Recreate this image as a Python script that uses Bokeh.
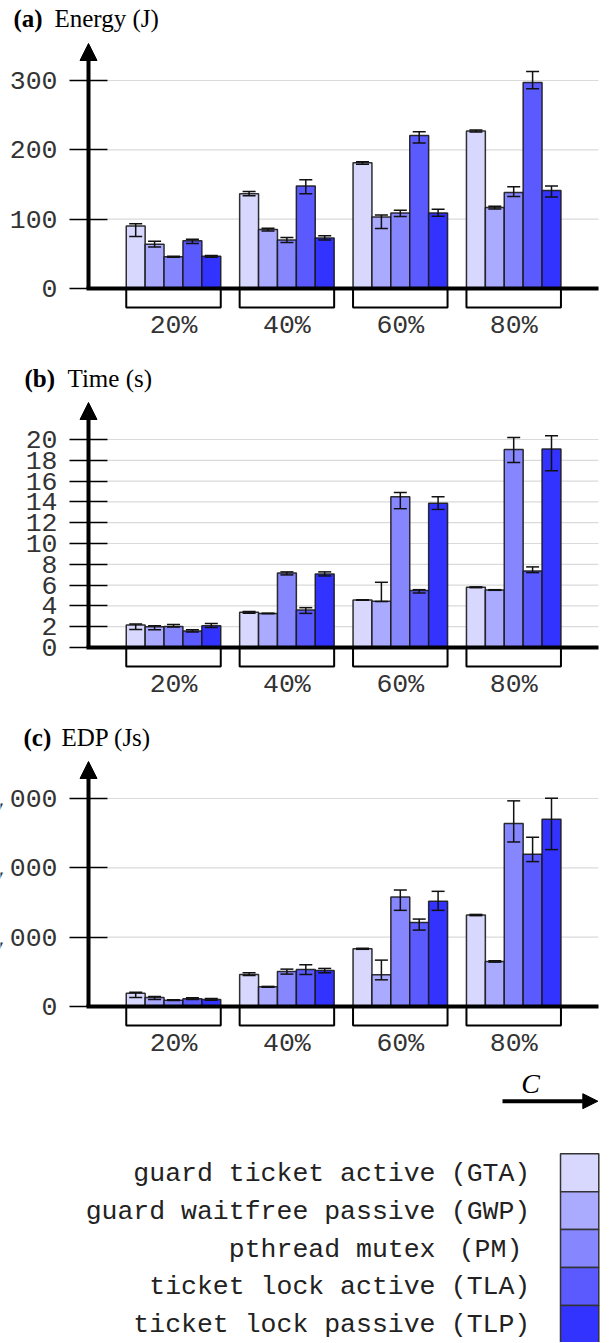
from bokeh.plotting import figure
from bokeh.models import (Range1d, FixedTicker, Label, Arrow, NormalHead, Whisker,
                          TeeHead, ColumnDataSource, NumeralTickFormatter)
from bokeh.layouts import column
from bokeh.core.properties import value
from bokeh.embed import file_html
from bokeh.resources import INLINE

# ---------------- data ----------------
groups = ["20%", "40%", "60%", "80%"]
series_names = ["guard ticket active", "guard waitfree passive", "pthread mutex",
                "ticket lock active", "ticket lock passive"]
series_abbr = ["(GTA)", "(GWP)", "(PM)", "(TLA)", "(TLP)"]
colors = ["#d8d8ff", "#aaaaff", "#8686ff", "#5a5aff", "#3333ff"]

# Energy (J)
energy_gta = [90.0, 136.6, 181.3, 227.0]
energy_gwp = [64.0, 85.0, 103.0, 116.8]
energy_pm = [45.7, 70.0, 109.0, 138.5]
energy_tla = [69.0, 148.0, 220.7, 297.0]
energy_tlp = [46.6, 73.0, 109.0, 141.4]
energy_lo = [[75.0, 133.7, 179.3, 225.6], [60.0, 83.0, 86.5, 114.8], [45.0, 66.3, 103.8, 132.7],
             [65.0, 136.6, 210.0, 288.0], [45.0, 70.0, 104.3, 132.0]]
energy_hi = [[93.4, 140.0, 182.7, 228.6], [68.0, 87.0, 106.0, 118.7], [46.5, 73.6, 113.0, 146.7],
             [71.0, 156.8, 226.0, 313.0], [47.6, 76.0, 114.4, 148.0]]
energy_ticks = [0, 100, 200, 300]

# Time (s)
time_gta = [2.16, 3.38, 4.57, 5.79]
time_gwp = [2.00, 3.28, 4.44, 5.53]
time_pm = [2.03, 7.17, 14.50, 19.03]
time_tla = [1.58, 3.60, 5.47, 7.36]
time_tlp = [2.09, 7.07, 13.86, 19.09]
time_lo = [[1.74, 3.30, 4.55, 5.75], [1.70, 3.25, 4.42, 5.50], [1.96, 6.98, 13.35, 17.78],
           [1.50, 3.28, 5.24, 7.20], [1.93, 6.88, 13.28, 17.00]]
time_hi = [[2.25, 3.45, 4.59, 5.83], [2.10, 3.30, 6.27, 5.56], [2.20, 7.27, 14.90, 20.19],
           [1.70, 3.83, 5.56, 7.75], [2.30, 7.27, 14.50, 20.35]]
time_ticks = [0, 2, 4, 6, 8, 10, 12, 14, 16, 18, 20]

# EDP (Js)
edp_gta = [192, 462, 833, 1319]
edp_gwp = [130, 284, 457, 650]
edp_pm = [91, 505, 1579, 2639]
edp_tla = [111, 534, 1213, 2196]
edp_tlp = [101, 520, 1517, 2701]
edp_lo = [[130, 448, 825, 1310], [101, 278, 385, 640], [85, 467, 1387, 2373],
          [100, 462, 1102, 2090], [90, 486, 1387, 2263]]
edp_hi = [[207, 486, 840, 1328], [144, 290, 669, 660], [97, 539, 1680, 2966],
          [125, 602, 1261, 2441], [115, 549, 1661, 3004]]
edp_ticks = [0, 1000, 2000, 3000]

# ---------------- layout constants (page pixels) ----------------
PAGE_W = 613
TOPTICK_PX = 208       # px from zero to the highest tick
ARROW_PX = 245         # px from zero to the arrow tip
PX_PER_GROUP = 113.4
GROUP0_PAGE_X = 173
AXIS_X = 88
GRID_X0 = 107
RIGHT_X = 598
MONO = "Liberation Mono"
SERIF = "Liberation Serif"
MONO_SIZE = "26.5px"


def px_to_x(page_x):
    return (page_x - GROUP0_PAGE_X) / PX_PER_GROUP


def make_panel(height, zero_px, title_px, series, los, his, ticks, tag, title,
               tag_x, title_x, formatter=None):
    s = TOPTICK_PX / ticks[-1]
    p = figure(width=PAGE_W, height=height,
               x_range=Range1d(px_to_x(0), px_to_x(PAGE_W)),
               y_range=Range1d(-(height - zero_px) / s, zero_px / s),
               output_backend="svg", toolbar_location=None, x_axis_location=None,
               title_location=None, min_border=0)
    p.outline_line_color = None
    p.grid.visible = False

    ax = p.yaxis[0]
    ax.fixed_location = px_to_x(AXIS_X)
    ax.ticker = FixedTicker(ticks=ticks)
    if formatter is not None:
        ax.formatter = formatter
    ax.axis_line_color = None
    ax.major_tick_line_color = "black"
    ax.major_tick_line_width = 1.4
    ax.major_tick_in = GRID_X0 - AXIS_X
    ax.major_tick_out = 19
    ax.minor_tick_line_color = None
    ax.minor_tick_out = 0
    ax.major_label_standoff = 12
    ax.major_label_text_font = MONO
    ax.major_label_text_font_size = MONO_SIZE
    ax.major_label_text_color = "#333333"

    # horizontal grid lines at the ticks
    p.segment(x0=[px_to_x(GRID_X0)] * len(ticks), y0=ticks,
              x1=[px_to_x(RIGHT_X)] * len(ticks), y1=ticks,
              line_color="#dadada", line_width=1.2)

    n = len(series)
    bw = 1.0 / 6
    for k in range(n):
        xs = [i + (k - (n - 1) / 2) * bw for i in range(len(groups))]
        src = ColumnDataSource(dict(x=xs, top=series[k], lo=los[k], hi=his[k]))
        p.vbar(x="x", top="top", bottom=0, width=bw, source=src,
               fill_color=colors[k], line_color="#1a1a1a", line_width=1.5, line_alpha=0.9)
        p.add_layout(Whisker(source=src, base="x", lower="lo", upper="hi",
                             line_color="#111111", line_width=1.5, level="overlay",
                             upper_head=TeeHead(size=13, line_color="#111111", line_width=1.5),
                             lower_head=TeeHead(size=13, line_color="#111111", line_width=1.5)))

    gx = list(range(len(groups)))
    half = n * bw / 2
    p.quad(left=[i - half for i in gx], right=[i + half for i in gx],
           top=[0] * len(gx), bottom=[-19 / s] * len(gx),
           fill_color=None, line_color="black", line_width=2)
    p.text(x=gx, y=[-37 / s] * len(gx), text=groups, text_align="center",
           text_baseline="middle", text_font=value(MONO), text_font_size=MONO_SIZE,
           text_color="#333333")

    # x axis line
    p.segment(x0=[px_to_x(AXIS_X - 2)], y0=[0], x1=[px_to_x(RIGHT_X)], y1=[0],
              line_color="black", line_width=4)
    # y axis arrow
    p.add_layout(Arrow(x_start=px_to_x(AXIS_X), y_start=0,
                       x_end=px_to_x(AXIS_X), y_end=ARROW_PX / s,
                       line_color="black", line_width=4,
                       end=NormalHead(size=17, fill_color="black", line_color="black",
                                      line_width=1)))
    # title
    ty = (zero_px - title_px) / s
    p.add_layout(Label(x=px_to_x(tag_x), y=ty, text=tag, text_font=SERIF,
                       text_font_style="bold", text_font_size="25px",
                       text_baseline="middle", text_align="left", text_color="black"))
    p.add_layout(Label(x=px_to_x(title_x), y=ty, text=title, text_font=SERIF,
                       text_font_size="25px", text_baseline="middle",
                       text_align="left", text_color="black"))
    return p


# panel tops (page px): a 0, b 355, c 710, legend 1060
pa = make_panel(355, 288, 18.3, [energy_gta, energy_gwp, energy_pm, energy_tla, energy_tlp],
                energy_lo, energy_hi, energy_ticks, "(a)", "Energy (J)", 13, 54)
pb = make_panel(355, 292, 22.7, [time_gta, time_gwp, time_pm, time_tla, time_tlp],
                time_lo, time_hi, time_ticks, "(b)", "Time (s)", 24, 67)
pc = make_panel(350, 296, 26.7, [edp_gta, edp_gwp, edp_pm, edp_tla, edp_tlp],
                edp_lo, edp_hi, edp_ticks, "(c)", "EDP (Js)", 23, 61,
                formatter=NumeralTickFormatter(format="0,0"))

# ---------------- legend panel (page pixel coordinates) ----------------
LEG_TOP = 355 + 355 + 350
LEG_H = 282
lp = figure(width=PAGE_W, height=LEG_H, x_range=Range1d(0, PAGE_W),
            y_range=Range1d(LEG_TOP + LEG_H, LEG_TOP), output_backend="svg",
            toolbar_location=None, x_axis_location=None, y_axis_location=None,
            title_location=None, min_border=0)
lp.outline_line_color = None
lp.grid.visible = False

ROW0 = 1153.3
ROW_H = 37.9
nrows = len(series_names)
tops = [ROW0 + ROW_H * k for k in range(nrows)]
mids = [t + ROW_H / 2 + 1 for t in tops]
lp.quad(left=[560] * nrows, right=[598.3] * nrows, top=tops,
        bottom=[t + ROW_H for t in tops], fill_color=colors,
        line_color="#333333", line_width=1.5)
lp.text(x=[435] * nrows, y=mids, text=series_names, text_align="right",
        text_baseline="middle", text_font=value(MONO), text_font_size=MONO_SIZE,
        text_color="#222222")
lp.text(x=[490] * nrows, y=mids, text=series_abbr, text_align="center",
        text_baseline="middle", text_font=value(MONO), text_font_size=MONO_SIZE,
        text_color="#222222")

lp.add_layout(Arrow(x_start=502, y_start=1100.7, x_end=597.3, y_end=1100.7,
                    line_color="black", line_width=4,
                    end=NormalHead(size=15, fill_color="black", line_color="black",
                                   line_width=1)))
lp.text(x=[530], y=[1082.5], text=["C"], text_align="center", text_baseline="middle",
        text_font=value(SERIF), text_font_style="italic", text_font_size="28px",
        text_color="black")

layout = column(pa, pb, pc, lp, spacing=0)
open("out.html", "w").write(file_html(layout, INLINE))
